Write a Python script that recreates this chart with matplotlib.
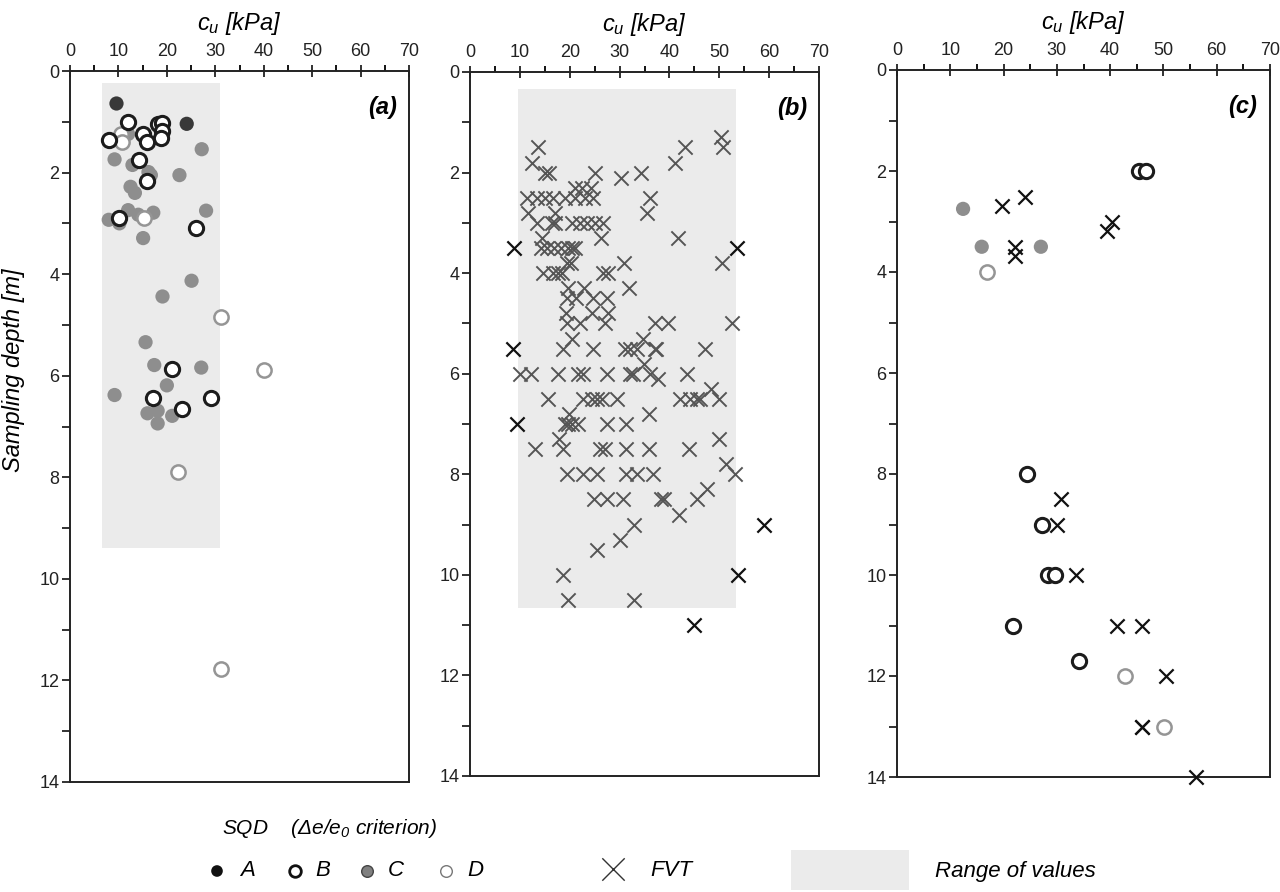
"""Undrained shear strength vs sampling depth: SQD lab tests and FVT."""

import numpy as np
import matplotlib.pyplot as plt
from matplotlib.patches import Rectangle
from matplotlib.ticker import MultipleLocator

plt.rcParams["font.family"] = ["Liberation Sans", "DejaVu Sans"]
plt.rcParams["mathtext.fontset"] = "custom"
plt.rcParams["mathtext.it"] = "Liberation Sans:italic"
plt.rcParams["mathtext.rm"] = "Liberation Sans:italic"

# ---- panel (a): laboratory cu by sample quality class ----
a_cu_A = [9.6, 24.1]
a_z_A = [0.64, 1.04]
a_cu_B = [12.0, 18.1, 19.1, 15.1, 19.1, 8.1, 16.0, 18.7, 14.2, 16.0, 10.1, 26.0,
          21.1, 17.1, 29.1, 23.1]
a_z_B = [1.00, 1.04, 1.02, 1.24, 1.19, 1.35, 1.39, 1.31, 1.75, 2.16, 2.90, 3.10,
         5.87, 6.44, 6.44, 6.66]
a_cu_C = [12.0, 9.2, 12.9, 16.2, 16.7, 22.6, 27.2, 12.5, 13.4, 12.0, 14.1, 17.2,
          28.1, 8.0, 10.2, 15.1, 25.1, 19.1, 15.6, 17.4, 27.1, 20.0, 9.2, 16.0,
          18.1, 21.1, 18.1]
a_z_C = [1.24, 1.74, 1.85, 1.99, 2.05, 2.05, 1.54, 2.28, 2.40, 2.74, 2.83, 2.79,
         2.75, 2.93, 3.00, 3.29, 4.13, 4.44, 5.34, 5.79, 5.84, 6.19, 6.38, 6.74,
         6.69, 6.79, 6.94]
a_cu_D = [10.5, 10.7, 15.3, 31.1, 40.1, 22.3, 31.1]
a_z_D = [1.24, 1.39, 2.90, 4.84, 5.89, 7.89, 11.78]
a_range = (6.6, 31.0, 0.24, 9.4)  # cu min, cu max, depth top, depth bottom

# ---- panel (b): field vane tests ----
b_cu = [50.3, 50.8, 13.7, 43.1, 41.1, 12.5,
        15.0, 15.9, 25.1, 34.2, 30.2,
        21.0, 22.5, 24.2,
        11.4, 13.4, 15.0, 16.7, 19.1, 21.1, 23.1, 24.7, 36.1,
        11.7, 17.0, 35.6,
        13.4, 16.4, 17.0, 20.4, 22.1, 23.4, 25.1, 26.7,
        14.4, 26.3, 41.7,
        14.2, 15.5, 16.9, 18.3, 19.6, 20.4, 21.1,
        19.4, 20.2, 30.9, 50.6,
        14.7, 16.6, 17.7, 18.4, 26.7, 27.6,
        19.6, 22.9, 31.9,
        19.4, 21.3, 24.7, 27.4,
        19.3, 24.4, 27.7,
        19.4, 22.1, 27.1, 37.1, 39.8, 52.5,
        20.5, 34.6,
        18.7, 24.7, 31.1, 32.1, 33.4, 37.1, 37.4, 47.1,
        34.9,
        10.0, 12.2, 17.7, 21.7, 22.7, 27.4, 32.1, 32.6, 36.1, 43.6, 37.8,
        48.3,
        15.6, 22.7, 24.4, 25.4, 26.4, 29.4, 42.1, 44.1, 45.5, 46.1, 50.0,
        19.9, 35.9,
        19.1, 19.7, 20.4, 21.7, 27.5, 31.3,
        17.9, 49.9,
        13.0, 18.6, 26.1, 27.1, 31.3, 36.0, 44.0,
        51.3,
        19.5, 22.7, 25.4, 31.3, 33.4, 36.8, 53.1,
        47.5,
        24.9, 27.4, 30.7, 38.4, 38.9, 45.6,
        42.0, 32.9, 30.1, 25.4, 18.7, 19.6, 32.8]
b_z = [1.3, 1.5, 1.5, 1.5, 1.8, 1.8,
       2.0, 2.0, 2.0, 2.0, 2.1,
       2.3, 2.3, 2.3,
       2.5, 2.5, 2.5, 2.5, 2.5, 2.5, 2.5, 2.5, 2.5,
       2.8, 2.8, 2.8,
       3.0, 3.0, 3.0, 3.0, 3.0, 3.0, 3.0, 3.0,
       3.3, 3.3, 3.3,
       3.5, 3.5, 3.5, 3.5, 3.5, 3.5, 3.5,
       3.8, 3.8, 3.8, 3.8,
       4.0, 4.0, 4.0, 4.0, 4.0, 4.0,
       4.3, 4.3, 4.3,
       4.5, 4.5, 4.5, 4.5,
       4.8, 4.8, 4.8,
       5.0, 5.0, 5.0, 5.0, 5.0, 5.0,
       5.3, 5.3,
       5.5, 5.5, 5.5, 5.5, 5.5, 5.5, 5.5, 5.5,
       5.8,
       6.0, 6.0, 6.0, 6.0, 6.0, 6.0, 6.0, 6.0, 6.0, 6.0, 6.1,
       6.3,
       6.5, 6.5, 6.5, 6.5, 6.5, 6.5, 6.5, 6.5, 6.5, 6.5, 6.5,
       6.8, 6.8,
       7.0, 7.0, 7.0, 7.0, 7.0, 7.0,
       7.3, 7.3,
       7.5, 7.5, 7.5, 7.5, 7.5, 7.5, 7.5,
       7.8,
       8.0, 8.0, 8.0, 8.0, 8.0, 8.0, 8.0,
       8.3,
       8.5, 8.5, 8.5, 8.5, 8.5, 8.5,
       8.8, 9.0, 9.3, 9.5, 10.0, 10.5, 10.5]
b_cu_out = [8.9, 53.5, 8.6, 9.5, 59.0, 53.7, 44.9]
b_z_out = [3.5, 3.5, 5.5, 7.0, 9.0, 10.0, 11.0]
b_range = (9.6, 53.3, 0.33, 10.65)

# ---- panel (c): second site ----
c_cu_B = [45.5, 46.7, 24.4, 27.3, 28.3, 29.6, 21.7, 34.1]
c_z_B = [2.0, 2.0, 8.0, 9.0, 10.0, 10.0, 11.0, 11.7]
c_cu_C = [12.4, 15.9, 27.0]
c_z_C = [2.75, 3.5, 3.5]
c_cu_D = [16.9, 42.8, 50.1]
c_z_D = [4.0, 12.0, 13.0]
c_cu_fvt = [19.7, 24.1, 22.2, 22.2, 40.3, 39.4, 30.7, 30.0, 33.5, 41.2, 45.9,
            50.4, 45.9, 46.0, 56.1]
c_z_fvt = [2.69, 2.51, 3.5, 3.69, 3.0, 3.19, 8.49, 9.0, 10.0, 11.0, 11.0,
           12.0, 13.0, 13.0, 14.0]

COL_A = "#383838"
COL_B = "#1c1c1c"
COL_C = "#8e8e8e"
COL_D = "#959595"
COL_RANGE = "#ebebeb"
S_CIRC = 105
S_X = 105


def style_axis(ax, label):
    ax.set_xlim(0, 70)
    ax.set_ylim(14, 0)
    ax.xaxis.tick_top()
    ax.xaxis.set_label_position("top")
    ax.xaxis.set_major_locator(MultipleLocator(10))
    ax.xaxis.set_minor_locator(MultipleLocator(5))
    ax.yaxis.set_major_locator(MultipleLocator(2))
    ax.yaxis.set_minor_locator(MultipleLocator(1))
    ax.tick_params(axis="x", which="major", direction="inout", length=8,
                   width=1.3, pad=4, labelsize=13, colors="#222222")
    ax.tick_params(axis="x", which="minor", direction="out", length=4, width=1.3)
    ax.tick_params(axis="y", which="both", direction="out", length=6,
                   width=1.3, pad=1.5, labelsize=13, colors="#222222")
    for sp in ax.spines.values():
        sp.set_linewidth(1.4)
        sp.set_color("#222222")
    ax.set_xlabel(r"$c_u$ [kPa]", fontsize=17, fontstyle="italic", labelpad=9)
    ax.text(0.965, 0.965, label, transform=ax.transAxes, ha="right", va="top",
            fontsize=17, fontweight="bold", fontstyle="italic")


def add_range(ax, rng):
    x0, x1, z0, z1 = rng
    ax.add_patch(Rectangle((x0, z0), x1 - x0, z1 - z0, facecolor=COL_RANGE,
                           edgecolor="none", zorder=0))


def plot_sqd(ax, cu, z, kind):
    if kind == "A":
        ax.scatter(cu, z, s=S_CIRC, c=COL_A, edgecolors="none", zorder=3)
    elif kind == "B":
        ax.scatter(cu, z, s=S_CIRC, facecolors="white", edgecolors=COL_B,
                   linewidths=2.2, zorder=4)
    elif kind == "C":
        ax.scatter(cu, z, s=S_CIRC, c=COL_C, edgecolors="none", zorder=2)
    else:
        ax.scatter(cu, z, s=S_CIRC, facecolors="white", edgecolors=COL_D,
                   linewidths=1.8, zorder=3)


fig = plt.figure(figsize=(12.8, 8.92), dpi=100)

ax_a = fig.add_axes([70 / 1280, 1 - 782 / 892, 339 / 1280, 711 / 892])
ax_b = fig.add_axes([470 / 1280, 1 - 776 / 892, 349 / 1280, 704 / 892])
ax_c = fig.add_axes([897 / 1280, 1 - 777 / 892, 373 / 1280, 707 / 892])

# (a)
add_range(ax_a, a_range)
plot_sqd(ax_a, a_cu_C, a_z_C, "C")
plot_sqd(ax_a, a_cu_D, a_z_D, "D")
plot_sqd(ax_a, a_cu_A, a_z_A, "A")
plot_sqd(ax_a, a_cu_B, a_z_B, "B")
style_axis(ax_a, "(a)")

# (b)
add_range(ax_b, b_range)
ax_b.scatter(b_cu, b_z, s=S_X, marker="x", c="#555555", linewidths=1.4, zorder=2)
ax_b.scatter(b_cu_out, b_z_out, s=S_X, marker="x", c="#111111",
             linewidths=1.6, zorder=3)
style_axis(ax_b, "(b)")

# (c)
plot_sqd(ax_c, c_cu_C, c_z_C, "C")
plot_sqd(ax_c, c_cu_D, c_z_D, "D")
plot_sqd(ax_c, c_cu_B, c_z_B, "B")
ax_c.scatter(c_cu_fvt, c_z_fvt, s=S_X, marker="x", c="#111111",
             linewidths=1.6, zorder=5, clip_on=False)
style_axis(ax_c, "(c)")

fig.text(14 / 1280, 1 - 370 / 892, "Sampling depth [m]", rotation=90,
         ha="center", va="center", fontsize=17, fontstyle="italic")

# ---- legend strip along the bottom (pixel coordinates) ----
leg = fig.add_axes([0, 0, 1, 100 / 892])
leg.set_xlim(0, 1280)
leg.set_ylim(892, 792)
leg.axis("off")
leg.text(222, 828, r"SQD    ($\Delta$e/e$_0$ criterion)", fontsize=15,
         fontstyle="italic", ha="left", va="center")
ky = 871
leg.scatter([217], [ky], s=70, c="#111111", edgecolors="none", clip_on=False)
leg.scatter([295], [ky], s=70, facecolors="white", edgecolors="#111111",
            linewidths=2, clip_on=False)
leg.scatter([367], [ky], s=70, c="#808080", edgecolors="#444444",
            linewidths=1, clip_on=False)
leg.scatter([446], [ky], s=70, facecolors="white", edgecolors="#777777",
            linewidths=1, clip_on=False)
for x, t in [(240, "A"), (315, "B"), (388, "C"), (467, "D"), (650, "FVT"),
             (935, "Range of values")]:
    leg.text(x, ky, t, fontsize=16, fontstyle="italic", ha="left", va="center")
leg.scatter([613], [ky - 2], s=260, marker="x", c="#333333", linewidths=1.0,
            clip_on=False)
leg.add_patch(Rectangle((791, 850), 118, 40, facecolor=COL_RANGE,
                        edgecolor="none"))

fig.savefig("out.png", dpi=100)
